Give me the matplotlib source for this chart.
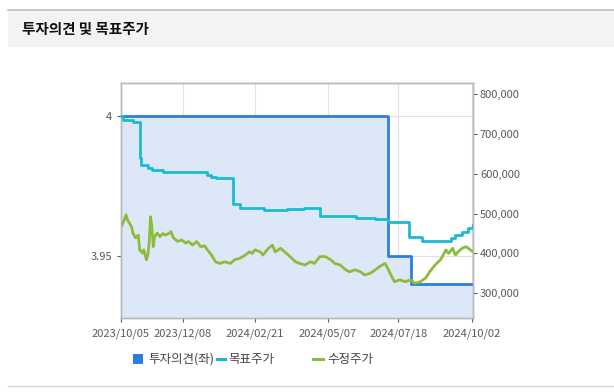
import numpy as np
import matplotlib
matplotlib.use("Agg")
from matplotlib import pyplot as plt
from matplotlib.lines import Line2D
from matplotlib.patches import Rectangle
from matplotlib.ticker import FuncFormatter

plt.rcParams['font.family'] = ['Noto Sans CJK KR', 'DejaVu Sans']

# x axis = trading days counted from 2023/10/05
tick_dates = ["2023-10-05", "2023-12-08", "2024-02-21", "2024-05-07", "2024-07-18", "2024-10-02"]
tick_labels = ["2023/10/05", "2023/12/08", "2024/02/21", "2024/05/07", "2024/07/18", "2024/10/02"]

# 투자의견 (left axis, step)
opinion_days = [0, 197, 214, 260]
opinion_vals = [4.0, 3.95, 3.94, 3.94]

# 목표주가 (right axis, step)
target_days = [0, 2, 9, 14, 15, 20, 23, 31, 64, 67, 70, 83, 88, 106, 123, 135, 147,
               174, 188, 197, 213, 222, 244, 247, 252, 256, 260]
target_vals = [746000, 735000, 730000, 640000, 622000, 614000, 610000, 605000, 598000,
               593000, 588000, 525000, 515000, 508000, 512000, 515000, 495000, 490000,
               486000, 480000, 440000, 430000, 439000, 446000, 454000, 463000, 471000]

# 수정주가 (right axis)
price_days = [0, 2, 4, 5, 8, 9, 11, 13, 14, 16, 17, 19, 20, 21, 22, 23, 24, 25, 27, 29,
              31, 33, 36, 37, 39, 42, 45, 48, 50, 53, 56, 59, 62, 64, 67, 70, 73, 77, 81,
              84, 88, 92, 95, 97, 99, 103, 105, 109, 112, 114, 118, 121, 125, 129, 132,
              136, 140, 143, 147, 151, 155, 158, 162, 166, 169, 173, 177, 180, 184, 188,
              191, 195, 197, 200, 202, 206, 210, 214, 217, 221, 225, 228, 232, 236, 238,
              240, 242, 245, 247, 249, 252, 255, 258, 260]
price_vals = [464000, 479000, 497000, 484000, 467000, 451000, 439000, 446000, 409000,
              401000, 409000, 384000, 396000, 426000, 492000, 467000, 417000, 442000,
              451000, 442000, 450000, 446000, 451000, 455000, 439000, 430000, 434000,
              426000, 430000, 421000, 430000, 417000, 419000, 409000, 396000, 379000,
              375000, 379000, 375000, 384000, 388000, 396000, 404000, 400000, 409000,
              404000, 396000, 413000, 421000, 404000, 413000, 404000, 392000, 379000,
              375000, 371000, 379000, 375000, 392000, 392000, 384000, 375000, 371000,
              359000, 354000, 359000, 354000, 346000, 350000, 359000, 367000, 375000,
              363000, 342000, 329000, 334000, 329000, 334000, 325000, 329000, 338000,
              354000, 371000, 384000, 396000, 409000, 400000, 413000, 396000, 404000,
              413000, 417000, 409000, 404000]

tick_pos = [int(np.busday_count(tick_dates[0], d)) for d in tick_dates]

fig = plt.figure(figsize=(6.14, 3.92), dpi=100)
fig.patch.set_facecolor("white")

# header band
fig.patches.append(Rectangle((8 / 614, 1 - 47 / 392), 1, 37 / 392, transform=fig.transFigure,
                             facecolor="#f3f3f3", edgecolor="none", zorder=0))
fig.lines.append(Line2D([8 / 614, 1], [1 - 10 / 392, 1 - 10 / 392], transform=fig.transFigure,
                        color="#bdbdbd", lw=1.2))
fig.lines.append(Line2D([8 / 614, 1], [1 - 386 / 392, 1 - 386 / 392], transform=fig.transFigure,
                        color="#d4d4d4", lw=1.0))
fig.text(22 / 614, 1 - 29 / 392, "투자의견 및 목표주가", fontsize=10.5, fontweight="bold",
         va="center", ha="left", color="#111111")

ax = fig.add_axes([120.7 / 614, 73.7 / 392, 352.3 / 614, 235.6 / 392])
ax.set_facecolor("white")
ax.set_xlim(0, 260)
ax.set_ylim(3.9278, 4.0118)

ax.fill_between(opinion_days, opinion_vals, 3.9278, step="post", color="#dce8f8", lw=0, zorder=1)
ax.step(opinion_days, opinion_vals, where="post", color="#2e7ee0", lw=2.0, zorder=3)

ax.set_xticks(tick_pos)
ax.set_xticklabels(tick_labels)
ax.set_yticks([3.95, 4.0])
ax.set_yticklabels(["3.95", "4"])
ax.grid(True, color="#dde2ea", lw=0.8, zorder=0)
ax.set_axisbelow(True)

ax2 = ax.twinx()
ax2.set_ylim(237300, 828300)
ax2.step(target_days, target_vals, where="post", color="#1cbad2", lw=2.0, zorder=3)
ax2.plot(price_days, price_vals, color="#8dbb3e", lw=2.0, zorder=2)
ax2.set_yticks([300000, 400000, 500000, 600000, 700000, 800000])
ax2.yaxis.set_major_formatter(FuncFormatter(lambda v, p: f"{int(v):,}"))

for a in (ax, ax2):
    for s in a.spines.values():
        s.set_color("#b8b8b8")
        s.set_linewidth(1.0)
    a.tick_params(labelsize=8, colors="#5a5a5a", length=3, width=0.8)
ax.tick_params(axis="x", pad=4)
ax.tick_params(axis="y", pad=3)
ax2.tick_params(axis="y", pad=2)

# legend
ly = 1 - 359 / 392
fig.patches.append(Rectangle((133 / 614, ly - 5 / 392), 10 / 614, 10 / 392, transform=fig.transFigure,
                             facecolor="#2b7de0", edgecolor="none"))
fig.text(148 / 614, ly, "투자의견(좌)", fontsize=9, va="center", ha="left", color="#444444")
fig.lines.append(Line2D([217 / 614, 225 / 614], [ly, ly], transform=fig.transFigure,
                        color="#1cbad2", lw=2.2))
fig.text(228 / 614, ly, "목표주가", fontsize=9, va="center", ha="left", color="#444444")
fig.lines.append(Line2D([313 / 614, 323 / 614], [ly, ly], transform=fig.transFigure,
                        color="#8dbb3e", lw=2.2))
fig.text(327 / 614, ly, "수정주가", fontsize=9, va="center", ha="left", color="#444444")

plt.savefig("out.png", dpi=100)
